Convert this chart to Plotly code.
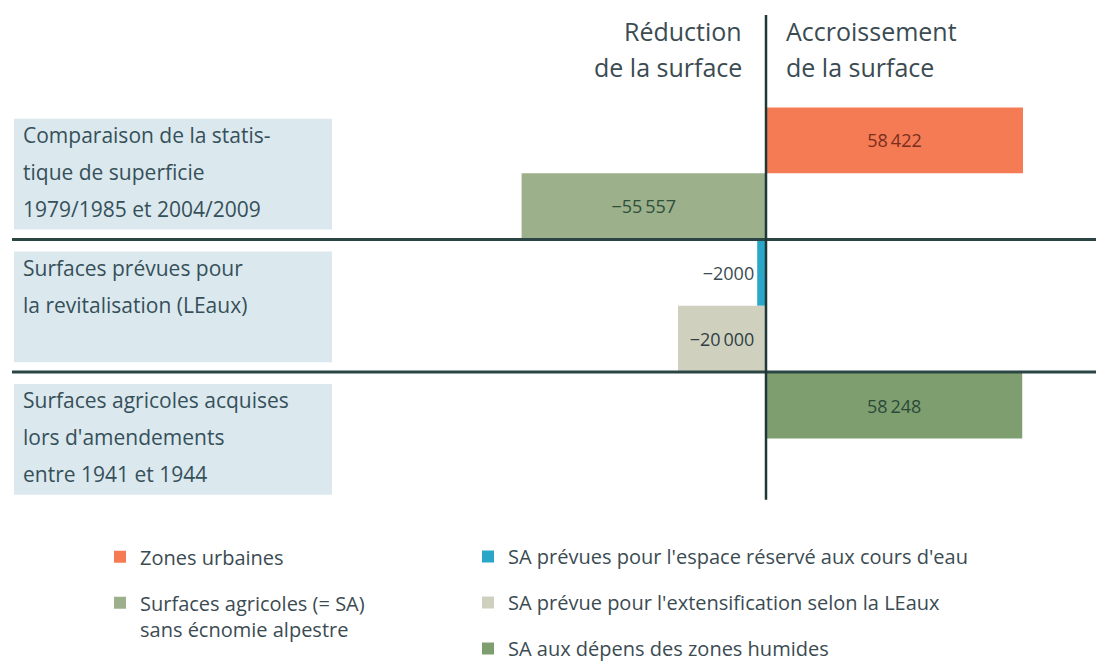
import plotly.graph_objects as go

# ---- data ----
categories = [
    "Comparaison de la statistique de superficie 1979/1985 et 2004/2009",
    "Surfaces prévues pour la revitalisation (LEaux)",
    "Surfaces agricoles acquises lors d'amendements entre 1941 et 1944",
]
category_label_lines = [
    ["Comparaison de la statis-", "tique de superficie", "1979/1985 et 2004/2009"],
    ["Surfaces prévues pour", "la revitalisation (LEaux)"],
    ["Surfaces agricoles acquises", "lors d'amendements", "entre 1941 et 1944"],
]
series_names = [
    "Zones urbaines",
    "Surfaces agricoles (= SA)<br>sans écnomie alpestre",
    "SA prévues pour l'espace réservé aux cours d'eau",
    "SA prévue pour l'extensification selon la LEaux",
    "SA aux dépens des zones humides",
]
zones_urbaines = [58422, None, None]
sa_sans_alpestre = [-55557, None, None]
sa_cours_eau = [None, -2000, None]
sa_extensification = [None, -20000, None]
sa_zones_humides = [None, None, 58248]

header_left = ["Réduction", "de la surface"]
header_right = ["Accroissement", "de la surface"]

# ---- styles ----
FONT = "Open Sans"
TXT = "#3b4b52"
LBL = "#36505a"
colors = ["#f47b54", "#9bb08b", "#2aa6c9", "#cfd1be", "#7f9e70"]
text_colors = ["#7a2e1e", "#2f4f3a", "#3b4b52", "#2f3f45", "#2b4a3a"]
positions = ["inside", "inside", "outside", "inside", "inside"]
offsetgroups = ["top", "bottom", "top", "bottom", "top"]
legends = ["legend", "legend", "legend2", "legend2", "legend2"]


def fr(v):
    if v is None:
        return ""
    sign = "\u2212" if v < 0 else ""
    a = abs(int(v))
    if a < 10000:
        s = str(a)
    else:
        s = f"{a:,}".replace(",", "\u2009")
    return sign + s


series_values = [zones_urbaines, sa_sans_alpestre, sa_cours_eau,
                 sa_extensification, sa_zones_humides]

fig = go.Figure()
for i, (name, vals) in enumerate(zip(series_names, series_values)):
    fig.add_trace(go.Bar(
        name=name, y=categories, x=vals, orientation="h",
        marker=dict(color=colors[i], line=dict(width=0)),
        offsetgroup=offsetgroups[i],
        text=[fr(v) for v in vals], textposition=positions[i],
        insidetextanchor="middle",
        textfont=dict(family=FONT, size=18, color=text_colors[i]),
        legend=legends[i], legendgroup=f"g{i}",
        cliponaxis=False, hoverinfo="skip",
    ))

OFF = 8  # page body margin
W, H = 1104 - OFF, 668 - OFF


def px(p):
    return p - OFF


px_per_unit = 257 / 58422.0
zero_px = px(766)
x_range = [-zero_px / px_per_unit, (W - zero_px) / px_per_unit]
cat_px = 134.0
cat0_px = px(175)
y_range = [(H - cat0_px) / cat_px, -cat0_px / cat_px]

shapes = []
annotations = []
for i, lines in enumerate(category_label_lines):
    shapes.append(dict(type="rect", xref="paper", yref="y",
                       x0=px(14) / W, x1=px(332) / W, y0=i - 0.41, y1=i + 0.425,
                       fillcolor="#dbe8ee", line=dict(width=0), layer="below"))
    for j, t in enumerate(lines):
        annotations.append(dict(text=t, xref="paper", yref="y", x=px(21) / W, y=i,
                                yshift=38 - 37 * j, xanchor="left", yanchor="middle",
                                showarrow=False,
                                font=dict(family=FONT, size=21, color=LBL)))
for k in range(len(categories) - 1):
    shapes.append(dict(type="line", xref="paper", yref="y", x0=px(12) / W, x1=1,
                       y0=k + 0.5, y1=k + 0.5, line=dict(color="#2b4444", width=3)))
shapes.append(dict(type="line", xref="x", yref="paper", x0=0, x1=0,
                   y0=1 - px(505) / H, y1=1 - px(15) / H,
                   line=dict(color="#1e3838", width=2.5)))

for j, t in enumerate(header_left):
    annotations.append(dict(text=t, xref="x", yref="paper", x=0, xshift=-22,
                            y=1 - px(31 + 37 * j) / H, xanchor="right", yanchor="middle",
                            showarrow=False, font=dict(family=FONT, size=25, color=TXT)))
for j, t in enumerate(header_right):
    annotations.append(dict(text=t, xref="x", yref="paper", x=0, xshift=18,
                            y=1 - px(31 + 37 * j) / H, xanchor="left", yanchor="middle",
                            showarrow=False, font=dict(family=FONT, size=25, color=TXT)))

legend_common = dict(yanchor="top", xanchor="left", bgcolor="rgba(0,0,0,0)",
                     font=dict(family=FONT, size=20, color=TXT), tracegroupgap=17,
                     traceorder="grouped", valign="top", itemclick=False,
                     itemdoubleclick=False)

fig.update_layout(
    width=W, height=H, margin=dict(l=0, r=0, t=0, b=0),
    paper_bgcolor="white", plot_bgcolor="white",
    barmode="group", bargap=0.01, bargroupgap=0,
    xaxis=dict(range=x_range, visible=False, fixedrange=True),
    yaxis=dict(type="category", categoryorder="array", categoryarray=categories,
               range=y_range, visible=False, fixedrange=True),
    shapes=shapes, annotations=annotations,
    showlegend=True,
    legend=dict(x=px(100) / W, y=1 - px(543) / H, **legend_common),
    legend2=dict(x=px(468) / W, y=1 - px(543) / H, **legend_common),
    uniformtext=dict(minsize=10, mode="show"),
)

fig.write_html("out.html")
